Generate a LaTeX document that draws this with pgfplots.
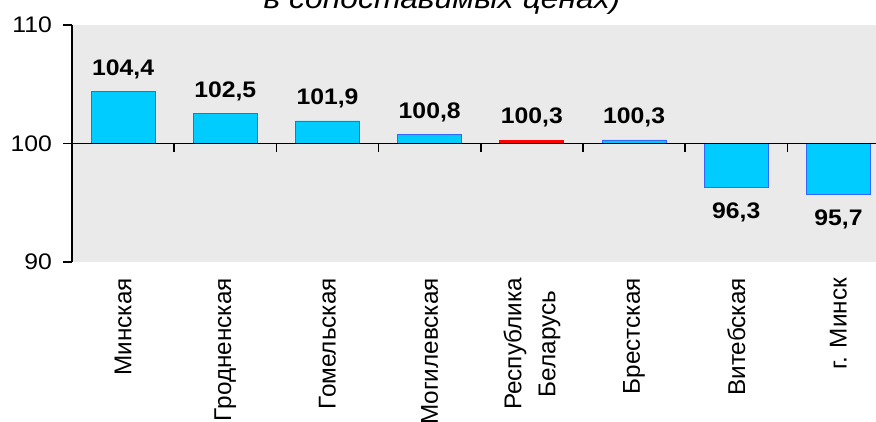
\documentclass[border=0pt]{standalone}
\usepackage{fontspec}
\setmainfont{Liberation Sans}
\usepackage{graphicx}
\usepackage{pgfplots}
\pgfplotsset{compat=1.18}

\definecolor{barcyan}{HTML}{00CCFF}
\definecolor{baredge}{HTML}{3366FF}
\definecolor{plotbg}{HTML}{EAEAEA}

\begin{document}
\begin{tikzpicture}
\begin{axis}[
  at={(72pt,160pt)}, anchor=south west,
  scale only axis, width=817.6pt, height=237pt,
  xmin=-0.5, xmax=7.5, ymin=90, ymax=110,
  % bars grow from 100, so shift the y scale
  y coord trafo/.code={\pgfmathparse{#1-100}},
  y coord inv trafo/.code={\pgfmathparse{#1+100}},
  axis background/.style={fill=plotbg},
  axis lines*=left,
  x axis line style={draw=none},
  y axis line style={line width=1.5pt, black},
  tick align=outside,
  major tick length=9pt,
  xtick style={draw=none},
  ytick style={line width=1.5pt, black},
  ytick={90,100,110},
  yticklabels={\scalebox{1.1}[1]{90},\scalebox{1.1}[1]{100},\scalebox{1.1}[1]{110}},
  yticklabel style={font=\fontsize{22.5}{27}\selectfont, inner xsep=11pt, inner ysep=0pt},
  xtick={0,...,7},
  xticklabels={Минская, Гродненская, Гомельская, Могилевская, {Республика\\Беларусь}, Брестская, Витебская, г. Минск},
  xticklabel style={rotate=90, anchor=east, align=center,
    font=\fontsize{24.3}{34}\selectfont, inner xsep=7pt, inner ysep=0pt},
  /pgf/number format/.cd, use comma, fixed, fixed zerofill, precision=1, assume math mode=true,
]
% regions above 100
\addplot[ybar, bar width=64pt, bar shift=0pt, fill=barcyan, draw=baredge, line width=0.8pt,
  point meta=rawy,
  nodes near coords={\scalebox{1.1}[1]{\pgfmathprintnumber{\pgfplotspointmeta}}},
  every node near coord/.append style={anchor=base, yshift=16pt, text=black,
    font=\fontsize{22.5}{27}\selectfont\bfseries}]
  coordinates {(0,104.4) (1,102.5) (2,101.9) (3,100.8) (5,100.3)};
% republic total
\addplot[ybar, bar width=64pt, bar shift=0pt, fill=red, draw=red, line width=0.8pt,
  point meta=rawy,
  nodes near coords={\scalebox{1.1}[1]{\pgfmathprintnumber{\pgfplotspointmeta}}},
  every node near coord/.append style={anchor=base, yshift=16pt, text=black,
    font=\fontsize{22.5}{27}\selectfont\bfseries}]
  coordinates {(4,100.3)};
% regions below 100
\addplot[ybar, bar width=64pt, bar shift=0pt, fill=barcyan, draw=baredge, line width=0.8pt,
  point meta=rawy,
  nodes near coords={\scalebox{1.1}[1]{\pgfmathprintnumber{\pgfplotspointmeta}}},
  every node near coord/.append style={anchor=base, yshift=-31pt, text=black,
    font=\fontsize{22.5}{27}\selectfont\bfseries}]
  coordinates {(6,96.3) (7,95.7)};
\end{axis}
% line at 100 with category separators
\draw[line width=1.5pt, black] (72pt,278.5pt) -- (890pt,278.5pt);
\foreach \i in {1,...,7} \draw[line width=1.5pt, black] ({(72+\i*102.2)*1pt},278.5pt) -- ++(0,-9pt);
\node[anchor=base, font=\fontsize{29}{35}\selectfont\itshape] at (442pt,413pt)
  {\scalebox{1.1}[1]{в сопоставимых ценах)}};
\pgfresetboundingbox
\path[use as bounding box] (0,0) rectangle (876pt,422pt);
\end{tikzpicture}
\end{document}
